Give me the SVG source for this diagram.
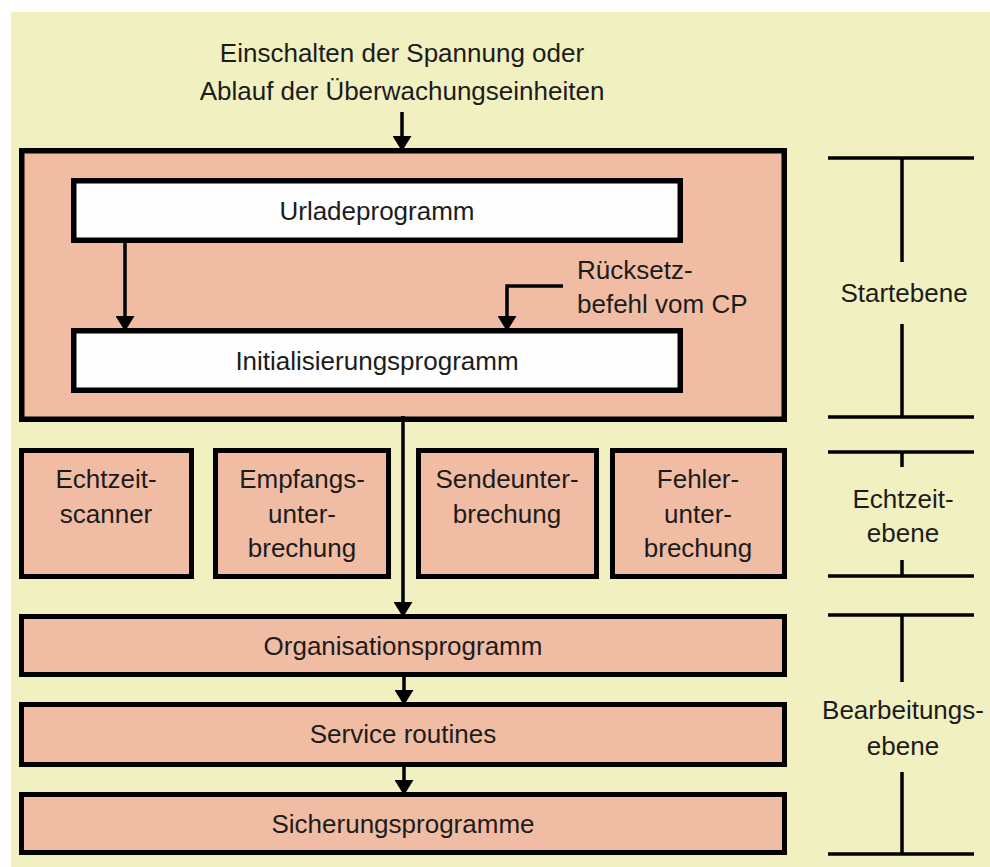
<svg xmlns="http://www.w3.org/2000/svg" width="990" height="867" viewBox="0 0 990 867">
  <style>
    .bg { fill: #F1F0C0; }
    .box { fill: #F1BCA4; stroke: #000; stroke-width: 5; }
    .frame { fill: #F1BCA4; stroke: #000; stroke-width: 5.5; }
    .white { fill: #FEFEFE; stroke: #000; stroke-width: 5.5; }
    .lbl { font-family: "Liberation Sans", Arial, sans-serif; font-size: 26px; fill: #1c1c1c; text-anchor: middle; }
    .lbl-l { font-family: "Liberation Sans", Arial, sans-serif; font-size: 26px; fill: #1c1c1c; text-anchor: start; }
    .wire { fill: none; stroke: #000; stroke-width: 3.5; }
    .scale { fill: none; stroke: #000; stroke-width: 3.5; }
  </style>
  <defs>
    <!-- arrowhead drawn along +x, base at x=0, blunt tip at x=12 -->
    <marker id="head" markerUnits="userSpaceOnUse" markerWidth="13" markerHeight="19" viewBox="0 0 12 18" refX="0" refY="9" orient="auto">
      <path d="M0,0 L12,7.5 L12,10.5 L0,18 Z" fill="#000"/>
    </marker>
  </defs>

  <rect class="bg" x="11" y="12" width="979" height="855"/>

  <!-- trigger label -->
  <g id="trigger">
    <text class="lbl" x="402" y="62">Einschalten der Spannung oder</text>
    <text class="lbl" x="402" y="100">Ablauf der Überwachungseinheiten</text>
  </g>

  <!-- start level -->
  <g id="start-level">
    <rect class="frame" x="21.75" y="150.75" width="762.5" height="268.5"/>
  </g>
  <g id="urladeprogramm">
    <rect class="white" x="73.75" y="180.75" width="606.5" height="59.5"/>
    <text class="lbl" x="377" y="220">Urladeprogramm</text>
  </g>
  <g id="initialisierungsprogramm">
    <rect class="white" x="73.75" y="330.75" width="606.5" height="59.5"/>
    <text class="lbl" x="377" y="370">Initialisierungsprogramm</text>
  </g>
  <g id="reset-label">
    <text class="lbl-l" x="577" y="279">Rücksetz-</text>
    <text class="lbl-l" x="577" y="313">befehl vom CP</text>
  </g>

  <!-- real-time level -->
  <g id="echtzeitscanner">
    <rect class="box" x="21.5" y="450.5" width="170" height="126"/>
    <text class="lbl" x="106" y="488">Echtzeit-</text>
    <text class="lbl" x="106" y="523">scanner</text>
  </g>
  <g id="empfangsunterbrechung">
    <rect class="box" x="215.5" y="450.5" width="173" height="126"/>
    <text class="lbl" x="302" y="488">Empfangs-</text>
    <text class="lbl" x="302" y="523">unter-</text>
    <text class="lbl" x="302" y="557">brechung</text>
  </g>
  <g id="sendeunterbrechung">
    <rect class="box" x="418.5" y="450.5" width="178" height="126"/>
    <text class="lbl" x="507" y="488">Sendeunter-</text>
    <text class="lbl" x="507" y="523">brechung</text>
  </g>
  <g id="fehlerunterbrechung">
    <rect class="box" x="612.5" y="450.5" width="172" height="126"/>
    <text class="lbl" x="698" y="488">Fehler-</text>
    <text class="lbl" x="698" y="523">unter-</text>
    <text class="lbl" x="698" y="557">brechung</text>
  </g>

  <!-- processing level -->
  <g id="organisationsprogramm">
    <rect class="box" x="21.5" y="616.5" width="763" height="58"/>
    <text class="lbl" x="403" y="655">Organisationsprogramm</text>
  </g>
  <g id="service-routines">
    <rect class="box" x="21.5" y="704.5" width="763" height="60"/>
    <text class="lbl" x="403" y="743">Service routines</text>
  </g>
  <g id="sicherungsprogramme">
    <rect class="box" x="21.5" y="794.5" width="763" height="58"/>
    <text class="lbl" x="403" y="833">Sicherungsprogramme</text>
  </g>

  <!-- connectors -->
  <g id="connectors">
    <path class="wire" d="M402,112 V136" marker-end="url(#head)"/>
    <path class="wire" d="M125,243 V316" marker-end="url(#head)"/>
    <path class="wire" d="M563,286 H507 V316" marker-end="url(#head)"/>
    <path class="wire" d="M403,416 V602" marker-end="url(#head)"/>
    <path class="wire" d="M404,677 V690" marker-end="url(#head)"/>
    <path class="wire" d="M404,767 V780" marker-end="url(#head)"/>
  </g>

  <!-- level scale on the right -->
  <g id="level-startebene">
    <path class="scale" d="M828,158 H974 M902,158 V262 M902,324 V417 M828,417 H974"/>
    <text class="lbl" x="904" y="302">Startebene</text>
  </g>
  <g id="level-echtzeitebene">
    <path class="scale" d="M828,452 H974 M902,452 V467 M902,560 V576 M828,576 H974"/>
    <text class="lbl" x="903" y="508">Echtzeit-</text>
    <text class="lbl" x="903" y="542">ebene</text>
  </g>
  <g id="level-bearbeitungsebene">
    <path class="scale" d="M828,615 H974 M902,615 V682 M902,772 V854 M828,854 H974"/>
    <text class="lbl" x="903" y="719">Bearbeitungs-</text>
    <text class="lbl" x="903" y="755">ebene</text>
  </g>
</svg>
